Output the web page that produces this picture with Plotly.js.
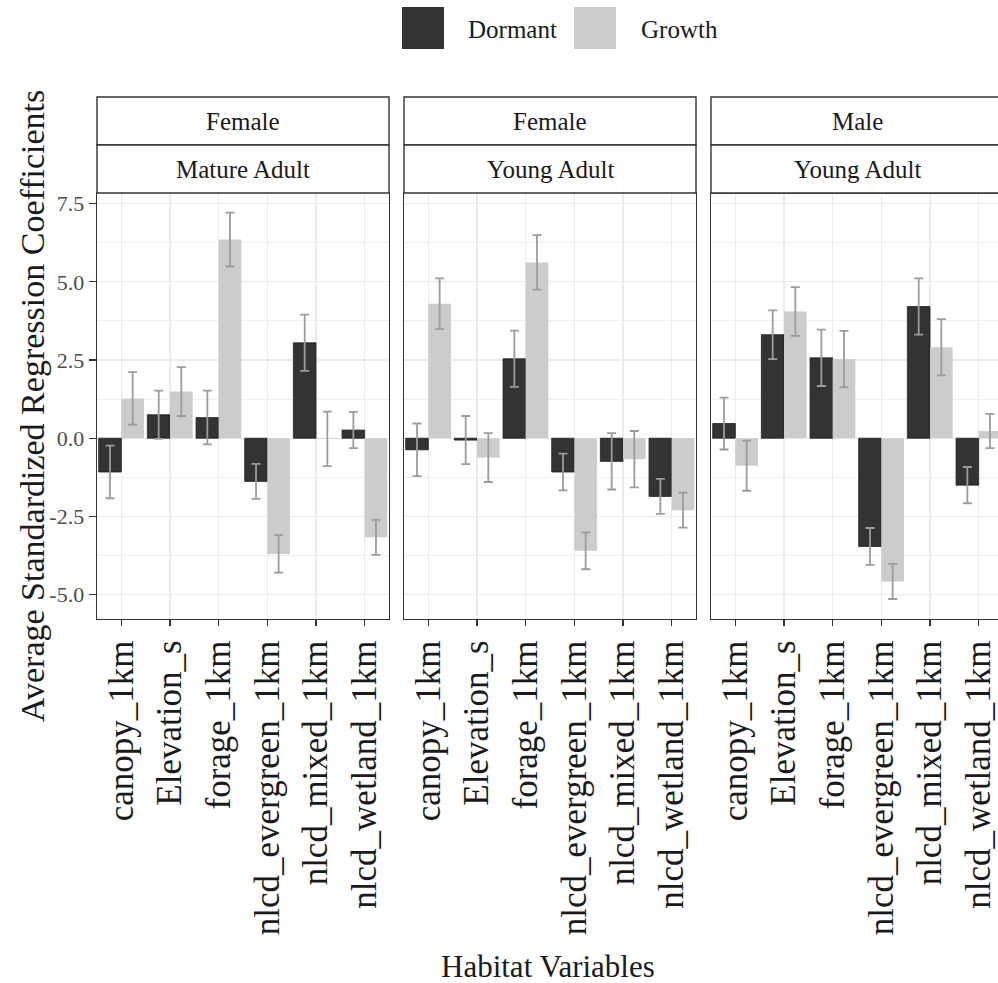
<!DOCTYPE html>
<html>
<head>
<meta charset="utf-8">
<script src="https://cdn.plot.ly/plotly-3.0.1.min.js"></script>
<style>html,body{margin:0;padding:0;background:#fff;}#chart{width:998px;height:983px;}</style>
</head>
<body>
<div id="chart"></div>
<script>
// ---- data ----
const categories = ['canopy_1km','Elevation_s','forage_1km','nlcd_evergreen_1km','nlcd_mixed_1km','nlcd_wetland_1km'];
const stripSex = ['Female','Female','Male'];
const stripAge = ['Mature Adult','Young Adult','Young Adult'];
const seasons = ['Dormant','Growth'];

const femaleMatureDormant    = [-1.08, 0.75, 0.66, -1.38, 3.05, 0.26];
const femaleMatureDormantErr = [0.84, 0.77, 0.86, 0.56, 0.90, 0.58];
const femaleMatureGrowth     = [1.27, 1.49, 6.35, -3.70, -0.02, -3.17];
const femaleMatureGrowthErr  = [0.84, 0.78, 0.86, 0.60, 0.87, 0.56];

const femaleYoungDormant     = [-0.37, -0.06, 2.54, -1.08, -0.74, -1.86];
const femaleYoungDormantErr  = [0.84, 0.77, 0.90, 0.59, 0.90, 0.56];
const femaleYoungGrowth      = [4.30, -0.62, 5.62, -3.60, -0.67, -2.30];
const femaleYoungGrowthErr   = [0.81, 0.78, 0.87, 0.59, 0.90, 0.56];

const maleYoungDormant       = [0.47, 3.31, 2.57, -3.46, 4.21, -1.50];
const maleYoungDormantErr    = [0.83, 0.78, 0.90, 0.59, 0.90, 0.58];
const maleYoungGrowth        = [-0.88, 4.05, 2.53, -4.58, 2.91, 0.23];
const maleYoungGrowthErr     = [0.80, 0.78, 0.90, 0.56, 0.90, 0.55];

const yTickVals = [-5.0, -2.5, 0.0, 2.5, 5.0, 7.5];

// ---- build ----
const panels = [
  {d: femaleMatureDormant, de: femaleMatureDormantErr, g: femaleMatureGrowth, ge: femaleMatureGrowthErr},
  {d: femaleYoungDormant,  de: femaleYoungDormantErr,  g: femaleYoungGrowth,  ge: femaleYoungGrowthErr},
  {d: maleYoungDormant,    de: maleYoungDormantErr,    g: maleYoungGrowth,    ge: maleYoungGrowthErr}
];
const dormantColor = '#333333';
const growthColor = '#CCCCCC';
const errColor = '#9C9C9C';
const FONT = 'Liberation Serif';

const traces = [];
panels.forEach((p, i) => {
  const xa = i === 0 ? 'x' : 'x' + (i + 1);
  const ya = i === 0 ? 'y' : 'y' + (i + 1);
  traces.push({
    type: 'bar', name: seasons[0], x: categories, y: p.d, xaxis: xa, yaxis: ya,
    offsetgroup: 'D', showlegend: false,
    marker: {color: dormantColor, line: {color: '#1f1f1f', width: 0.8}},
    error_y: {type: 'data', array: p.de, visible: true, color: errColor, thickness: 1.8, width: 4.5}
  });
  traces.push({
    type: 'bar', name: seasons[1], x: categories, y: p.g, xaxis: xa, yaxis: ya,
    offsetgroup: 'G', showlegend: false,
    marker: {color: growthColor, line: {width: 0}},
    error_y: {type: 'data', array: p.ge, visible: true, color: errColor, thickness: 1.8, width: 4.5}
  });
});

// Layout geometry (pixels of the figure)
const ML = 97, MT = 193, MB = 364, W = 998, H = 983;
const plotW = W - ML, plotH = H - MT - MB;
const panelW = 292, panelGap = 15;
const panelLefts = [97, 97 + panelW + panelGap, 97 + 2 * (panelW + panelGap)];
const domains = panelLefts.map(l => [ (l - ML) / plotW, Math.min(1, (l + panelW - ML) / plotW) ]);
const lastVisibleFrac = (W - panelLefts[2]) / panelW;   // panel 3 is cut at the figure edge

const yRange = [-5.78, 7.84];
const layout = {
  width: W, height: H,
  margin: {l: ML, r: 0, t: MT, b: MB, pad: 0},
  paper_bgcolor: '#ffffff', plot_bgcolor: '#ffffff',
  font: {family: FONT, color: '#1a1a1a'},
  barmode: 'group', bargap: 0.07, bargroupgap: 0,
  showlegend: false,
  shapes: [], annotations: []
};

const stripH1 = 48 / plotH, stripH2 = 48 / plotH;
for (let i = 0; i < 3; i++) {
  const s = i === 0 ? '' : String(i + 1);
  const xr = i === 2 ? [-0.5, -0.5 + 6 * lastVisibleFrac] : [-0.5, 5.5];
  layout['xaxis' + s] = {
    domain: domains[i], anchor: 'y' + s, range: xr, type: 'category',
    categoryorder: 'array', categoryarray: categories,
    showline: true, linecolor: '#333333', linewidth: 1.4, mirror: i === 2 ? false : true,
    ticks: 'outside', ticklen: 6, tickwidth: 1.3, tickcolor: '#333333',
    tickangle: -90, tickfont: {family: FONT, size: 35, color: '#1a1a1a'},
    showgrid: true, gridcolor: '#EBEBEB', gridwidth: 1.2, zeroline: false,
    automargin: false, fixedrange: true
  };
  layout['yaxis' + s] = {
    domain: [0, 1], anchor: 'x' + s, range: yRange,
    matches: i === 0 ? undefined : 'y',
    tickmode: 'array', tickvals: yTickVals, ticktext: yTickVals.map(v => v.toFixed(1)),
    showticklabels: i === 0, ticks: i === 0 ? 'outside' : '', ticklen: 7, tickwidth: 1.3, tickcolor: '#333333',
    tickfont: {family: FONT, size: 22, color: '#4D4D4D'},
    showline: true, linecolor: '#333333', linewidth: 1.4, mirror: i === 2 ? false : true,
    showgrid: true, gridcolor: '#EBEBEB', gridwidth: 1.2, zeroline: false,
    minor: {tickmode: 'linear', tick0: -5, dtick: 1.25, showgrid: true, gridcolor: '#EFEFEF', gridwidth: 1, ticks: ''},
    automargin: false, fixedrange: true
  };
  const xref = 'x' + s + ' domain';
  const xEnd = i === 2 ? 1 / lastVisibleFrac : 1;
  if (i === 2) {
    layout.shapes.push({type: 'line', xref: xref, yref: 'paper', x0: 0, x1: xEnd, y0: 1, y1: 1,
      line: {color: '#333333', width: 1.4}});
  }
  // strips
  layout.shapes.push({type: 'rect', xref: xref, yref: 'paper', x0: 0, x1: xEnd, y0: 1 + stripH2, y1: 1 + stripH2 + stripH1,
    fillcolor: '#ffffff', line: {color: '#333333', width: 1.4}});
  layout.shapes.push({type: 'rect', xref: xref, yref: 'paper', x0: 0, x1: xEnd, y0: 1, y1: 1 + stripH2,
    fillcolor: '#ffffff', line: {color: '#333333', width: 1.4}});
  layout.annotations.push({xref: xref, yref: 'paper', x: xEnd / 2, y: 1 + stripH2 + stripH1 / 2,
    text: stripSex[i], showarrow: false, xanchor: 'center', yanchor: 'middle',
    font: {family: FONT, size: 25, color: '#1a1a1a'}});
  layout.annotations.push({xref: xref, yref: 'paper', x: xEnd / 2, y: 1 + stripH2 / 2,
    text: stripAge[i], showarrow: false, xanchor: 'center', yanchor: 'middle',
    font: {family: FONT, size: 25, color: '#1a1a1a'}});
}

// axis titles
const px2x = px => (px - ML) / plotW;
const py2y = py => (MT + plotH - py) / plotH;
layout.annotations.push({xref: 'paper', yref: 'paper', x: px2x(32), y: 0.5, textangle: -90,
  text: 'Average Standardized Regression Coefficients', showarrow: false, xanchor: 'center', yanchor: 'middle',
  font: {family: FONT, size: 34, color: '#1a1a1a'}});
layout.annotations.push({xref: 'paper', yref: 'paper', x: px2x(548), y: py2y(966),
  text: 'Habitat Variables', showarrow: false, xanchor: 'center', yanchor: 'middle',
  font: {family: FONT, size: 31, color: '#1a1a1a'}});

// legend (drawn manually to match large keys)
const legendKeys = [
  {label: seasons[0], color: dormantColor, x0: 402, textX: 466},
  {label: seasons[1], color: growthColor, x0: 574, textX: 639}
];
legendKeys.forEach(k => {
  layout.shapes.push({type: 'rect', xref: 'paper', yref: 'paper',
    x0: px2x(k.x0), x1: px2x(k.x0 + 42), y0: py2y(49), y1: py2y(7),
    fillcolor: k.color, line: {width: 0}});
  layout.annotations.push({xref: 'paper', yref: 'paper', x: px2x(k.textX), y: py2y(30),
    text: k.label, showarrow: false, xanchor: 'left', yanchor: 'middle',
    font: {family: FONT, size: 25, color: '#1a1a1a'}});
});

Plotly.newPlot('chart', traces, layout, {displayModeBar: false, staticPlot: true});
</script>
</body>
</html>
